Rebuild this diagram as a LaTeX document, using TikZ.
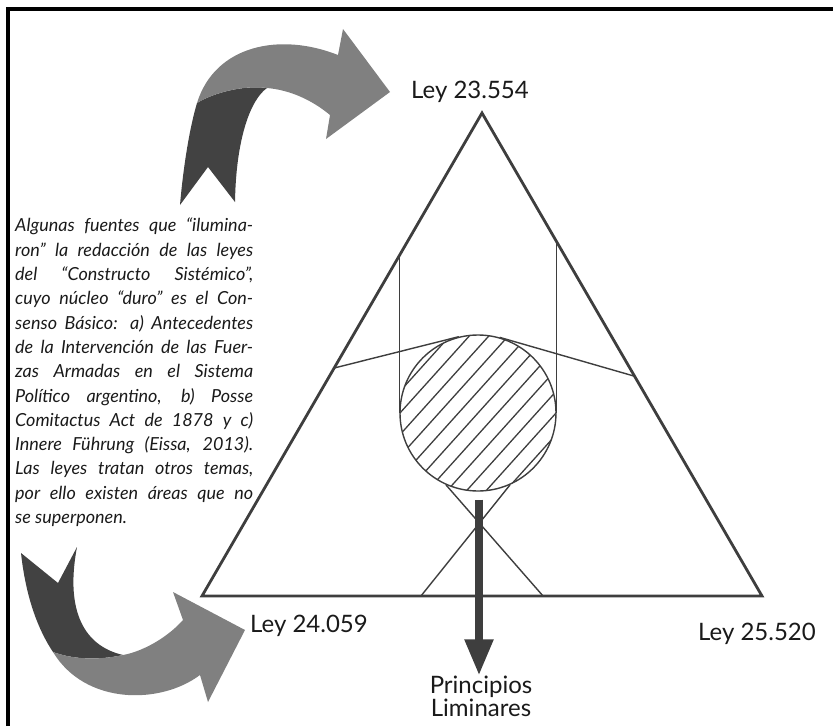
\documentclass[tikz,border=0pt]{standalone}
\usepackage{fontspec}
\setmainfont{Lato}
\usepackage{tikz}
\usepackage{xcolor}
\definecolor{ink}{RGB}{62,62,62}
\definecolor{lightband}{RGB}{128,128,128}
\definecolor{darkband}{RGB}{66,66,66}
\definecolor{type}{RGB}{26,26,26}
\usetikzlibrary{calc,positioning,arrows.meta}

\begin{document}
\begin{tikzpicture}[x=1pt,y=-1pt,
        side/.style={draw=ink,line width=2.8pt,line join=miter},
        guide/.style={draw=ink,line width=1.4pt},
        ley/.style={font=\fontsize{24}{23}\selectfont,text=type,inner sep=0pt},
        flowarrow/.style={draw=ink,line width=8pt,-{Triangle[length=36pt,width=27pt]}}]
    \useasboundingbox (0,0) rectangle (833,726);
    \draw[line width=3.5pt] (8,726) -- (8,9) -- (833,9);

    % ribbon arrows
    \begin{scope}
        \fill[darkband] (197,103) .. controls (215,92) and (245,85) .. (267,88)
            .. controls (250,100) and (236,140) .. (235,202) -- (208,167) -- (180,205)
            .. controls (183,170) and (189,130) .. (197,103) -- cycle;
        \fill[lightband] (197,103) .. controls (215,92) and (245,85) .. (267,88)
            .. controls (290,90) and (312,100) .. (330,115) -- (326,139) -- (390,92)
            -- (343,29) -- (338,55) .. controls (280,32) and (215,45) .. (197,103) -- cycle;
    \end{scope}
    \begin{scope}
        \fill[darkband] (21,553) -- (58,583) -- (77,547)
            .. controls (66,605) and (80,645) .. (123,655)
            .. controls (100,660) and (75,660) .. (53,652)
            .. controls (35,625) and (25,590) .. (21,553) -- cycle;
        \fill[lightband] (53,652) .. controls (75,660) and (100,660) .. (123,655)
            .. controls (140,652) and (165,640) .. (183,620) -- (173,592) -- (245,630)
            -- (208,702) -- (200,675) .. controls (160,705) and (85,705) .. (53,652) -- cycle;
    \end{scope}

    % triangle
    \coordinate (apex) at (482,113);
    \coordinate (bl) at (202,596);
    \coordinate (br) at (762,596);
    \draw[side] (apex) -- (bl) -- (br) -- cycle;

    % core
    \node[circle,minimum size=156pt,inner sep=0pt,draw=ink,line width=1.4pt] (core) at (478,413) {};
    \begin{scope}
        \clip (core.center) circle (78pt);
        \begin{scope}[shift={(core.center)},rotate=48]
            \foreach \d in {-72.5,-58,...,72.5}
                \draw[ink,line width=1.3pt] (-90pt,\d pt) -- (90pt,\d pt);
        \end{scope}
    \end{scope}

    \coordinate (lv) at ($(apex)!0.296!(bl)$);
    \coordinate (rv) at ($(apex)!0.261!(br)$);
    \coordinate (ls) at ($(apex)!0.528!(bl)$);
    \coordinate (rs) at ($(apex)!0.545!(br)$);
    \coordinate (bx1) at ($(bl)!0.391!(br)$);
    \coordinate (bx2) at ($(bl)!0.609!(br)$);
    \draw[guide] (core.west |- lv) -- (core.west);
    \draw[guide] (core.east |- rv) -- (core.east);
    \draw[guide] (ls) -- (tangent cs:node=core,point={(ls)},solution=2);
    \draw[guide] (rs) -- (tangent cs:node=core,point={(rs)},solution=1);
    \draw[guide] (bx1) -- (core.-66);
    \draw[guide] (bx2) -- (core.-114);

    % labels
    \node[ley,anchor=base] (ley1) at (470,98) {Ley 23.554};
    \node[ley,anchor=base west] (ley2) at (250,632) {Ley 24.059};
    \node[ley,anchor=base west] (ley3) at (698,640) {Ley 25.520};
    \node[ley,align=center] (lim) at (481,696) {Principios\\Liminares};
    \coordinate (flow) at ($(core.south)+(1,8)$);
    \draw[flowarrow] (flow) -- (flow |- lim.north);

    \node[anchor=north west,text width=238pt,inner sep=0pt,align=justify,text=type,
        font=\fontsize{18}{24.3}\selectfont\itshape] (notes) at (15,218)
        {Algunas fuentes que “ilumina-\linebreak
        ron” la redacción de las leyes\linebreak
        del “Constructo Sistémico”,\linebreak
        cuyo núcleo “duro” es el Con-\linebreak
        senso Básico: a) Antecedentes\linebreak
        de la Intervención de las Fuer-\linebreak
        zas Armadas en el Sistema\linebreak
        Político argentino, b) Posse\linebreak
        Comitactus Act de 1878 y c)\linebreak
        Innere Führung (Eissa, 2013).\linebreak
        Las leyes tratan otros temas,\linebreak
        por ello existen áreas que no\linebreak
        se superponen.};
\end{tikzpicture}
\end{document}
